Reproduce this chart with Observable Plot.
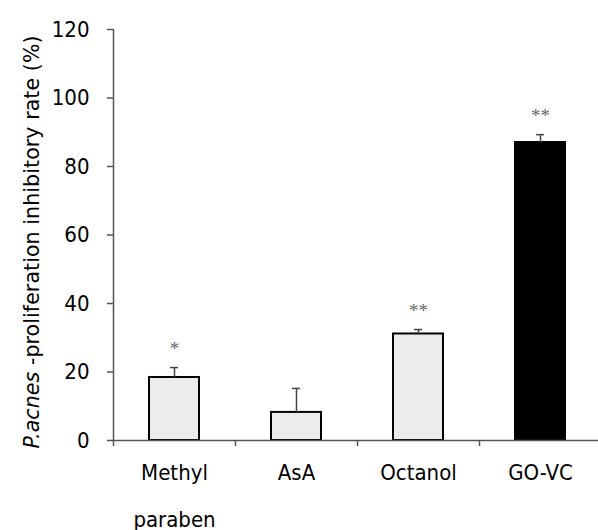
<!DOCTYPE html>
<html><head><meta charset="utf-8">
<script src="https://cdn.jsdelivr.net/npm/d3@7"></script>
<script src="https://cdn.jsdelivr.net/npm/@observablehq/plot@0.6"></script>
<style>
html,body{margin:0;padding:0;background:#fff;overflow:hidden;}
</style>
</head><body><div id="chart"></div>
<script>
const categories = ["Methyl\nparaben", "AsA", "Octanol", "GO-VC"];
const values = [18.4, 8.2, 31.1, 87.0];
const errors = [2.9, 7.0, 1.3, 2.3];
const stars = ["*", "", "**", "**"];
const fills = ["#ececec", "#ececec", "#ececec", "#000000"];
const yTicks = [0, 20, 40, 60, 80, 100, 120];

const data = categories.map((c, i) => ({c, v: values[i], e: values[i] + errors[i], s: stars[i], f: fills[i]}));
const font = "'DejaVu Sans Condensed', 'DejaVu Sans', sans-serif";

const chart = Plot.plot({
  width: 601, height: 530,
  marginLeft: 113, marginRight: 0, marginTop: 29, marginBottom: 90,
  style: {fontFamily: font, fontSize: "22px", background: "#fff", overflow: "visible", maxWidth: "none"},
  x: {domain: categories, padding: 0, axis: null},
  y: {domain: [0, 120], axis: null},
  marks: [
    Plot.barY(data, {x: "c", y: "v", fill: "f", stroke: "#000", strokeWidth: 2, insetLeft: 36, insetRight: 36}),
    Plot.ruleX(data, {x: "c", y1: "v", y2: "e", stroke: "#444", strokeWidth: 1.5}),
    Plot.tickY(data, {x: "c", y: "e", stroke: "#444", strokeWidth: 1.5, insetLeft: 57, insetRight: 57}),
    Plot.text(data, {x: "c", y: "e", text: "s", dy: -19, fill: "#666", fontFamily: "Liberation Serif, serif", fontSize: 19, lineAnchor: "middle"}),
    Plot.ruleY([0], {stroke: "#555", strokeWidth: 1.5}),
    Plot.ruleX([0], {x: () => categories[0], dx: -61, y1: 0, y2: 120, stroke: "#555", strokeWidth: 1.5}),
    Plot.axisY({ticks: yTicks, tickSize: 6, tickPadding: 18, stroke: "#555", strokeWidth: 1.5, fill: "#000", fontSize: 22, label: null}),
    Plot.axisX({tickSize: 6, dx: -61, tickFormat: () => "", stroke: "#555", strokeWidth: 1.5, label: null}),
    Plot.text(data, {x: "c", y: 0, text: "c", dy: 7, lineAnchor: "top", lineHeight: 2.1, fontSize: 22, fill: "#000"})
  ]
});

// y-axis label with italic part
const svg = d3.select(chart);
const lab = svg.append("text")
  .attr("transform", "translate(39,242) rotate(-90)")
  .attr("text-anchor", "middle")
  .attr("font-family", "'DejaVu Sans', sans-serif")
  .attr("font-size", 20.5)
  .attr("letter-spacing", 0.1)
  .attr("fill", "#000");
lab.append("tspan").attr("font-style", "italic").text("P.acnes");
lab.append("tspan").text(" -proliferation inhibitory rate (%)");

document.getElementById("chart").appendChild(chart);
</script>
</body></html>
